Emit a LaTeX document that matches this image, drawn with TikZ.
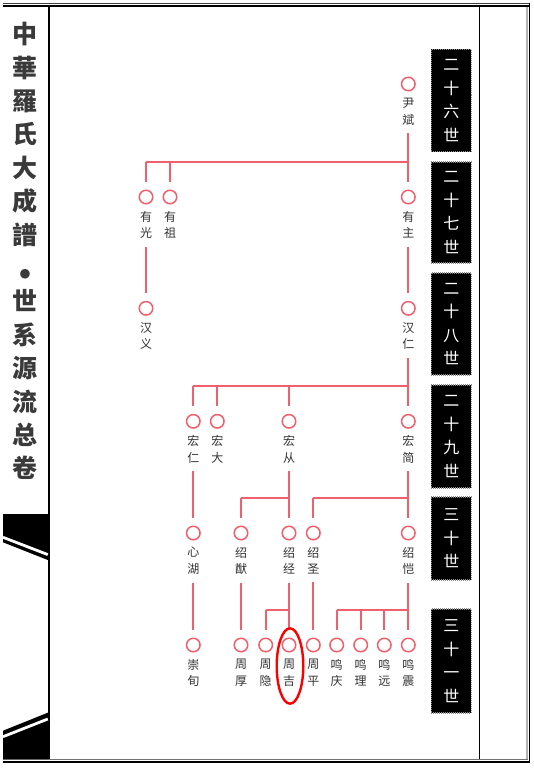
\documentclass[tikz,border=0pt]{standalone}
\usepackage{fontspec}
\newfontfamily\cjk{Noto Sans CJK SC}
\newfontfamily\djv{DejaVu Sans}
\usetikzlibrary{calc,shapes.geometric}
\definecolor{lnred}{RGB}{242,95,108}
\definecolor{txt}{RGB}{51,51,51}
\definecolor{ttlc}{RGB}{58,58,58}
\newcommand\person[4]{%
  \node[pc] (#1) at (#2) {};
  \node[nm] (#1t) at ([yshift=-6.5pt]#1.south) {#3\\#4};}
\begin{document}
\begin{tikzpicture}[x=1pt,y=-1pt,
  pc/.style={circle,draw=lnred,line width=1.5pt,minimum size=13.5pt,inner sep=0pt},
  nm/.style={font=\cjk\fontsize{12}{16.5}\selectfont,text=txt,align=center,inner sep=0pt,anchor=north},
  ln/.style={draw=lnred,line width=1.7pt},
  gen/.style={fill=black,draw=black!45,line width=1.6pt,dash pattern=on 1pt off 1pt,
    minimum width=40pt,inner sep=0pt,text=white,align=center,
    font=\cjk\fontsize{16}{23.5}\selectfont},
  title/.style={font=\cjk\bfseries\fontsize{25}{33.4}\selectfont,text=ttlc,align=center,inner sep=0pt},
  frame/.style={line width=1.5pt}]
\useasboundingbox[fill=white] (0,0) rectangle (534,768);
% ---- frame ----
\draw[frame,black!75] (3,3.5) -- (529.5,3.5);
\draw[frame,black] (3,6.2) -- (529.5,6.2);
\draw[line width=2pt,black!30] (526.8,7) -- (526.8,759.5);
\draw[frame,black] (529.3,3) -- (529.3,763);
\draw[line width=1.3pt,black!55] (3,759.6) -- (527.5,759.6);
\draw[line width=2pt,black] (3,762.2) -- (530,762.2);
\draw[line width=1.8pt,black] (49.3,7) -- (49.3,759);
\draw[line width=1.3pt,black] (479.5,7) -- (479.5,759);
% ---- side decorations ----
\fill[black] (3,514) -- (47.8,514) -- (47.8,560) -- (3,542.3) -- cycle;
\draw[white,line width=2.8pt] (3,537.3) -- (47.8,554.6);
\fill[black] (3,759) -- (47.8,759) -- (47.8,712.7) -- (3,730.7) -- cycle;
\draw[white,line width=2.8pt] (3,736.7) -- (47.8,719);
% ---- title ----
\node[title] (ttl) at (25,251.2) {中\\華\\羅\\氏\\大\\成\\譜\\{\djv\fontsize{12.5}{12.5}\selectfont ●}\\世\\系\\源\\流\\总\\卷};
% ---- generation labels ----
\node[gen,minimum height=102pt] (g26) at (451.3,100.5) {二\\十\\六\\世};
\node[gen,minimum height=101pt] (g27) at (451.3,212.5) {二\\十\\七\\世};
\node[gen,minimum height=102pt] (g28) at (451.3,324) {二\\十\\八\\世};
\node[gen,minimum height=103pt] (g29) at (451.3,436.5) {二\\十\\九\\世};
\node[gen,minimum height=83pt] (g30) at (451.3,538.3) {三\\十\\世};
\node[gen,minimum height=104pt] (g31) at (451.3,661) {三\\十\\一\\世};
% ---- persons ----
\person{ys}{408.3,84}{尹}{斌}
\person{yg}{146,197}{有}{光}
\person{yzu}{170,197}{有}{祖}
\person{yzh}{408.3,197}{有}{主}
\person{hy}{146,308.3}{汉}{义}
\person{hr}{408.3,308.3}{汉}{仁}
\person{hra}{193.3,421.3}{宏}{仁}
\person{hd}{217.3,421.3}{宏}{大}
\person{hc}{289,421.3}{宏}{从}
\person{hj}{408.3,421.3}{宏}{简}
\person{xh}{193.3,533}{心}{湖}
\person{sy}{241,533}{绍}{猷}
\person{sj}{289,533}{绍}{经}
\person{ss}{313.3,533}{绍}{圣}
\person{sk}{408.3,533}{绍}{恺}
\person{cx}{193.3,645}{崇}{旬}
\person{zh}{241,645}{周}{厚}
\person{zy}{265.7,645}{周}{隐}
\person{zj}{289,645}{周}{吉}
\person{zp}{313.3,645}{周}{平}
\person{mq}{336.7,645}{鸣}{庆}
\person{ml}{360.7,645}{鸣}{理}
\person{myu}{384.3,645}{鸣}{远}
\person{mz}{408.3,645}{鸣}{震}
% ---- junction levels ----
\coordinate (j1) at (0,161.7);
\coordinate (j2) at (0,385.7);
\coordinate (j3) at (0,497.7);
\coordinate (j4) at (0,610);
% ---- connectors ----
% 26 -> 27
\draw[ln] ([yshift=-8pt]yst.south) -- ([yshift=7.5pt]yzh.north);
\draw[ln] (yg |- j1) -- (yzh |- j1);
\draw[ln] (yg |- j1) -- ([yshift=7.5pt]yg.north);
\draw[ln] (yzu |- j1) -- ([yshift=7.5pt]yzu.north);
% 27 -> 28
\draw[ln] ([yshift=-8pt]ygt.south) -- ([yshift=7.5pt]hy.north);
\draw[ln] ([yshift=-8pt]yzht.south) -- ([yshift=7.5pt]hr.north);
% 28 -> 29
\draw[ln] ([yshift=-8pt]hrt.south) -- ([yshift=7.5pt]hj.north);
\draw[ln] (hra |- j2) -- (hj |- j2);
\draw[ln] (hra |- j2) -- ([yshift=7.5pt]hra.north);
\draw[ln] (hd |- j2) -- ([yshift=7.5pt]hd.north);
\draw[ln] (hc |- j2) -- ([yshift=7.5pt]hc.north);
% 29 -> 30
\draw[ln] ([yshift=-8pt]hrat.south) -- ([yshift=7.5pt]xh.north);
\draw[ln] ([yshift=-8pt]hct.south) -- ([yshift=7.5pt]sj.north);
\draw[ln] (sy |- j3) -- (hc |- j3);
\draw[ln] (sy |- j3) -- ([yshift=7.5pt]sy.north);
\draw[ln] ([yshift=-8pt]hjt.south) -- ([yshift=7.5pt]sk.north);
\draw[ln] (ss |- j3) -- (hj |- j3);
\draw[ln] (ss |- j3) -- ([yshift=7.5pt]ss.north);
% 30 -> 31
\draw[ln] ([yshift=-8pt]xht.south) -- ([yshift=7.5pt]cx.north);
\draw[ln] ([yshift=-8pt]syt.south) -- ([yshift=7.5pt]zh.north);
\draw[ln] ([yshift=-8pt]sjt.south) -- ([yshift=7.5pt]zj.north);
\draw[ln] (zy |- j4) -- (sj |- j4);
\draw[ln] (zy |- j4) -- ([yshift=7.5pt]zy.north);
\draw[ln] ([yshift=-8pt]sst.south) -- ([yshift=7.5pt]zp.north);
\draw[ln] ([yshift=-8pt]skt.south) -- ([yshift=7.5pt]mz.north);
\draw[ln] (mq |- j4) -- (sk |- j4);
\draw[ln] (mq |- j4) -- ([yshift=7.5pt]mq.north);
\draw[ln] (ml |- j4) -- ([yshift=7.5pt]ml.north);
\draw[ln] (myu |- j4) -- ([yshift=7.5pt]myu.north);
% ---- highlight ----
\node[draw=red,line width=2.4pt,ellipse,minimum width=26.6pt,minimum height=75.4pt,inner sep=0pt] (hl) at (290,666) {};
\end{tikzpicture}
\end{document}
